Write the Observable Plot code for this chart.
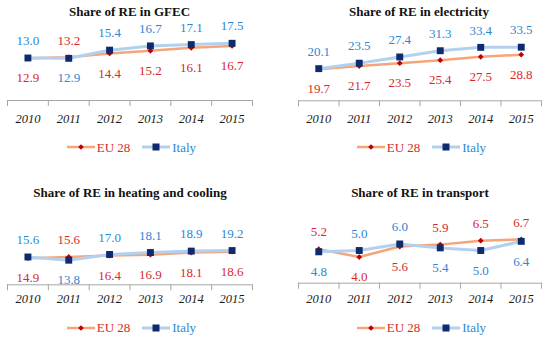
<!DOCTYPE html>
<html><head><meta charset="utf-8">
<script src="https://cdn.jsdelivr.net/npm/d3@7"></script>
<script src="https://cdn.jsdelivr.net/npm/@observablehq/plot@0.6"></script>
<style>
body{margin:0;background:#fff;}
#root{position:relative;width:550px;height:342px;font-family:"Liberation Serif",serif;overflow:hidden;background:#fff}
.panel{position:absolute;width:275px;height:171px}
.plotwrap{position:absolute;left:0;top:0}
.title{position:absolute;width:300px;text-align:center;font-weight:bold;font-size:13px;line-height:15px;color:#111;white-space:nowrap}
.legend{position:absolute;display:flex;align-items:center;font-size:13px;line-height:15px;white-space:nowrap;height:15px}
.legend svg{display:block}
</style></head><body><div id="root"></div>
<script>
// ---- data ----
const years = [2010, 2011, 2012, 2013, 2014, 2015];
const seriesNames = ["EU 28", "Italy"];
const panelTitles = ["Share of RE in GFEC", "Share of RE in electricity", "Share of RE in heating and cooling", "Share of RE in transport"];
const eu28_gfec = [12.9, 13.2, 14.4, 15.2, 16.1, 16.7];
const italy_gfec = [13.0, 12.9, 15.4, 16.7, 17.1, 17.5];
const eu28_electricity = [19.7, 21.7, 23.5, 25.4, 27.5, 28.8];
const italy_electricity = [20.1, 23.5, 27.4, 31.3, 33.4, 33.5];
const eu28_heating = [14.9, 15.6, 16.4, 16.9, 18.1, 18.6];
const italy_heating = [15.6, 13.8, 17.0, 18.1, 18.9, 19.2];
const eu28_transport = [5.2, 4.0, 5.6, 5.9, 6.5, 6.7];
const italy_transport = [4.8, 5.0, 6.0, 5.4, 5.0, 6.4];

// ---- style ----
const C = {
  euLine: "#f5a57a", euDot: "#c00000", euText: "#d8282c",
  itLine: "#b3d1ee", itDot: "#0d2b6e", itText: "#2e86d2",
  axis: "#a6a6a6"
};
const FONT = '"Liberation Serif", serif';

const layouts = [
  {left: 0,   top: 0,   tx: 129.5, ty: 11.7, xr: [7, 252],  axisY: 100,   topY: 34.6, yMax: 20, yearOff: 18, ly: 147,   lx: 66.7},
  {left: 275, top: 0,   tx: 144,   ty: 11.7, xr: [23, 266], axisY: 100.3, topY: 36.3, yMax: 40, yearOff: 18, ly: 147,   lx: 81.7},
  {left: 0,   top: 171, tx: 130,   ty: 21.7, xr: [7, 252],  axisY: 113.3, topY: 59.8, yMax: 30, yearOff: 14, ly: 156.7, lx: 66.7},
  {left: 275, top: 171, tx: 145,   ty: 21,   xr: [23, 266], axisY: 111.7, topY: 59.4, yMax: 8,  yearOff: 15, ly: 156.7, lx: 81.7}
];
const panelData = [
  [eu28_gfec, italy_gfec],
  [eu28_electricity, italy_electricity],
  [eu28_heating, italy_heating],
  [eu28_transport, italy_transport]
];
const bounds = [2009.5, 2010.5, 2011.5, 2012.5, 2013.5, 2014.5, 2015.5];

const root = document.getElementById("root");

function legendHTML() {
  const euSw = `<svg width="28" height="10"><line x1="0" x2="28" y1="5" y2="5" stroke="${C.euLine}" stroke-width="2.5"/><path d="M14,2.2L16.8,5L14,7.8L11.2,5Z" fill="${C.euDot}"/></svg>`;
  const itSw = `<svg width="28" height="10"><line x1="0" x2="28" y1="5" y2="5" stroke="${C.itLine}" stroke-width="3"/><rect x="10.5" y="1.5" width="7" height="7" fill="${C.itDot}"/></svg>`;
  return `${euSw}<span style="margin-left:2px;color:${C.euText}">${seriesNames[0]}</span>` +
         `<span style="margin-left:12px"></span>${itSw}<span style="margin-left:2px;color:${C.itText}">${seriesNames[1]}</span>`;
}

layouts.forEach((L, k) => {
  const [eu, it] = panelData[k];
  const euRows = years.map((y, i) => ({year: y, value: eu[i]}));
  const itRows = years.map((y, i) => ({year: y, value: it[i]}));
  const euAbove = euRows.filter((d, i) => eu[i] > it[i]);
  const euBelow = euRows.filter((d, i) => !(eu[i] > it[i]));
  const itAbove = itRows.filter((d, i) => !(eu[i] > it[i]));
  const itBelow = itRows.filter((d, i) => eu[i] > it[i]);

  const panel = document.createElement("div");
  panel.className = "panel";
  panel.style.left = L.left + "px";
  panel.style.top = L.top + "px";

  const lab = {x: "year", y: "value", text: d => d.value.toFixed(1), fontSize: 13, fontFamily: FONT};
  const chart = Plot.plot({
    width: 275,
    height: L.axisY + 30,
    marginLeft: L.xr[0],
    marginRight: 275 - L.xr[1],
    marginTop: L.topY,
    marginBottom: 30,
    x: {type: "linear", domain: [2009.5, 2015.5], label: null},
    y: {domain: [0, L.yMax], axis: null, label: null},
    style: {background: "transparent", fontFamily: FONT, overflow: "visible"},
    marks: [
      Plot.ruleY([0], {stroke: C.axis, strokeWidth: 1}),
      Plot.axisX({ticks: bounds, tickSize: 6, tickFormat: () => "", stroke: C.axis, label: null}),
      Plot.axisX({ticks: years, tickSize: 0, tickPadding: L.yearOff - 4.5, tickFormat: d => String(d),
                  fontStyle: "italic", fontSize: 12.5, fontFamily: FONT, fill: "#1a1a1a", label: null}),
      Plot.line(euRows, {x: "year", y: "value", stroke: C.euLine, strokeWidth: 2.5}),
      Plot.line(itRows, {x: "year", y: "value", stroke: C.itLine, strokeWidth: 3}),
      Plot.dot(euRows, {x: "year", y: "value", symbol: "diamond2", r: 2.6, fill: C.euDot}),
      Plot.dot(itRows, {x: "year", y: "value", symbol: "square", r: 3.9, fill: C.itDot}),
      Plot.text(euAbove, {...lab, fill: C.euText, dy: -17}),
      Plot.text(itAbove, {...lab, fill: C.itText, dy: -17}),
      Plot.text(euBelow, {...lab, fill: C.euText, dy: 20}),
      Plot.text(itBelow, {...lab, fill: C.itText, dy: 20})
    ]
  });
  const wrap = document.createElement("div");
  wrap.className = "plotwrap";
  wrap.appendChild(chart);
  panel.appendChild(wrap);

  const t = document.createElement("div");
  t.className = "title";
  t.textContent = panelTitles[k];
  t.style.left = (L.tx - 150) + "px";
  t.style.top = (L.ty - 7.5) + "px";
  panel.appendChild(t);

  const lg = document.createElement("div");
  lg.className = "legend";
  lg.innerHTML = legendHTML();
  lg.style.left = L.lx + "px";
  lg.style.top = (L.ly - 7.5) + "px";
  panel.appendChild(lg);

  root.appendChild(panel);
});
</script>
</body></html>
